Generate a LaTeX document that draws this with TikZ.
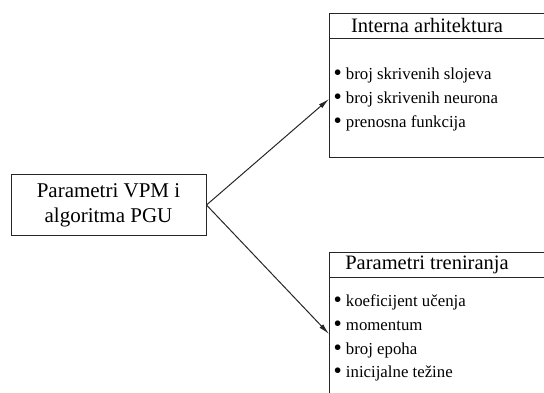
\documentclass[tikz,border=0pt]{standalone}
\usepackage{fontspec}
\setmainfont{Liberation Serif}
\usetikzlibrary{arrows.meta}
\newcommand{\itemdot}{\raisebox{-0.15ex}{\scalebox{1.4}{\textbullet}}\ }

\begin{document}
\begin{tikzpicture}[x=1pt, y=-1pt, line width=1pt, draw=black!85,
        box/.style={draw, rectangle, inner sep=0pt},
        title/.style={font=\fontsize{20.5}{22}\selectfont, inner sep=0pt},
        item/.style={font=\fontsize{16.8}{18}\selectfont, anchor=west, inner xsep=4pt, inner ysep=0pt},
        arr/.style={-{Latex[length=11pt, width=5pt]}}]
    \useasboundingbox (0,0) rectangle (544,392);
    \clip (0,0) rectangle (544,392);
    \node[box, minimum width=195pt, minimum height=61pt, align=center,
          font=\fontsize{21}{25}\selectfont] (params) at (108.5,205) {Parametri VPM i\\algoritma PGU};
    % gornji blok
    \node[box, anchor=north west, minimum width=240pt, minimum height=144pt] (arch) at (329,13) {};
    \node[title] (archtitle) at (427,25) {Interna arhitektura};
    \draw (arch.west |- 0,38) -- (arch.east |- 0,38);
    \node[item] (arch1) at (329,75) {\itemdot broj skrivenih slojeva};
    \node[item] (arch2) at (329,99) {\itemdot broj skrivenih neurona};
    \node[item] (arch3) at (329,123) {\itemdot prenosna funkcija};
    % donji blok
    \node[box, anchor=north west, minimum width=240pt, minimum height=160pt] (train) at (329,252) {};
    \node[title] (traintitle) at (427,265) {Parametri treniranja};
    \draw (train.west |- 0,277) -- (train.east |- 0,277);
    \node[item] (train1) at (329,302) {\itemdot koeficijent učenja};
    \node[item] (train2) at (329,326) {\itemdot momentum};
    \node[item] (train3) at (329,350) {\itemdot broj epoha};
    \node[item] (train4) at (329,373) {\itemdot inicijalne težine};
    \draw[arr] (params.east) -- (arch2.west);
    \draw[arr] (params.east) -- ([yshift=-8pt]train2.west);
\end{tikzpicture}
\end{document}
